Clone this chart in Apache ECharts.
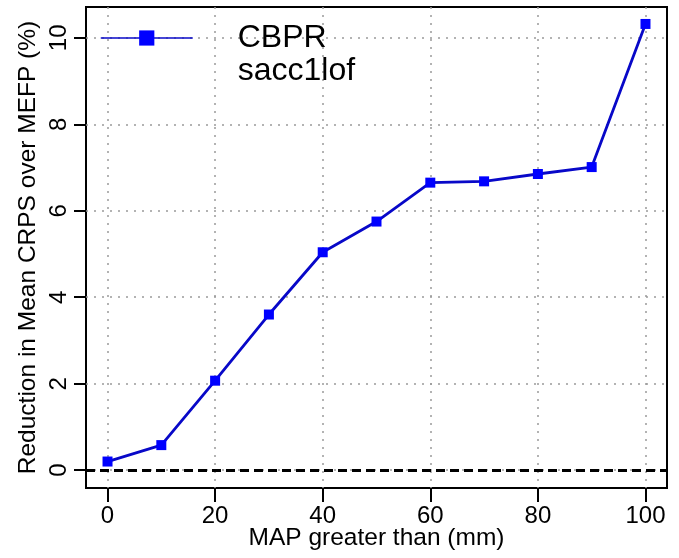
<!DOCTYPE html>
<html>
<head>
<meta charset="utf-8">
<script src="https://cdn.jsdelivr.net/npm/echarts@6/dist/echarts.min.js"></script>
<style>html,body{margin:0;padding:0;background:#fff}#c{width:679px;height:558px}</style>
</head>
<body>
<div id="c"></div>
<script>
const xValues = [0, 10, 20, 30, 40, 50, 60, 70, 80, 90, 100];
const reduction = [0.20, 0.58, 2.07, 3.60, 5.04, 5.75, 6.65, 6.68, 6.85, 7.01, 10.32];
const xTicks = [0, 20, 40, 60, 80, 100];
const yTicks = [0, 2, 4, 6, 8, 10];
const seriesName = 'CBPR';
const legendSub = 'sacc1lof';
const xTitle = 'MAP greater than (mm)';
const yTitle = 'Reduction in Mean CRPS over MEFP (%)';

const FONT = '"Liberation Sans", Arial, Helvetica, sans-serif';
const chart = echarts.init(document.getElementById('c'), null, {renderer: 'canvas'});
const grid = {left: 86, right: 12, top: 7, bottom: 70, show: true, borderColor: '#000', borderWidth: 2,
  backgroundColor: 'transparent', outerBoundsMode: 'none', containLabel: false};
const dotted = {color: '#9a9a9a', width: 1.5, type: [2, 6]};

chart.setOption({
  animation: false,
  backgroundColor: '#fff',
  grid: grid,
  legend: {
    left: 100, top: -11.5, padding: 0,
    itemWidth: 92, itemHeight: 19,
    lineStyle: {width: 1.5},
    data: [seriesName],
    formatter: function (n) { return '\n' + n + '\n' + legendSub; },
    textStyle: {fontFamily: FONT, fontSize: 32, lineHeight: 33, color: '#000', padding: [0, 0, 0, 40]}
  },
  xAxis: {
    type: 'value', min: -4, max: 104,
    name: xTitle, nameLocation: 'middle', nameGap: 38, nameMoveOverlap: false,
    nameTextStyle: {fontFamily: FONT, fontSize: 24.5, color: '#000'},
    axisLine: {show: false, onZero: false},
    axisTick: {show: true, length: 14, lineStyle: {color: '#000', width: 2}, customValues: xTicks},
    axisLabel: {fontFamily: FONT, fontSize: 24, color: '#000', margin: 16, customValues: xTicks},
    splitLine: {show: true, lineStyle: dotted}
  },
  yAxis: {
    type: 'value', min: -0.412, max: 10.712,
    name: yTitle, nameLocation: 'middle', nameGap: 45, nameMoveOverlap: false,
    nameTextStyle: {fontFamily: FONT, fontSize: 24.5, color: '#000'},
    axisLine: {show: false, onZero: false},
    axisTick: {show: true, length: 12, lineStyle: {color: '#000', width: 2}, customValues: yTicks},
    axisLabel: {fontFamily: FONT, fontSize: 24, color: '#000', margin: 15, rotate: 90, customValues: yTicks},
    splitLine: {show: true, lineStyle: dotted}
  },
  series: [{
    name: seriesName,
    type: 'line',
    data: xValues.map((x, i) => [x, reduction[i]]),
    symbol: 'rect', symbolSize: 10,
    showAllSymbol: true,
    lineStyle: {color: '#0808c8', width: 2.8},
    itemStyle: {color: '#0000ff'},
    z: 5,
    markLine: {
      silent: true, symbol: ['none', 'none'],
      label: {show: false},
      lineStyle: {color: '#000', width: 3, type: [9, 5]},
      data: [{yAxis: 0}]
    }
  }]
});
</script>
</body>
</html>
